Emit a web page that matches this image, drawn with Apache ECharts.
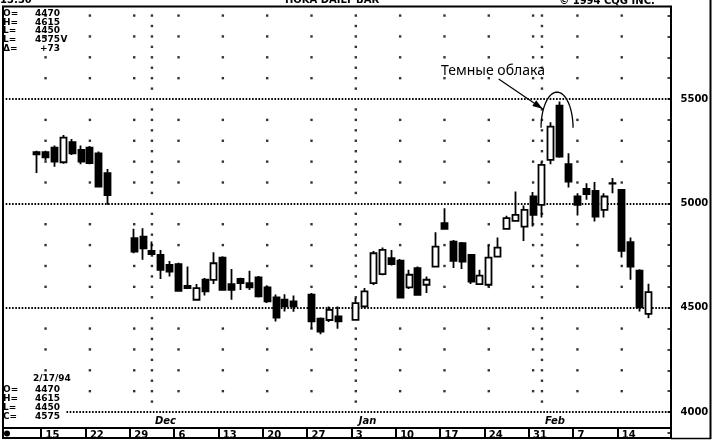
<!DOCTYPE html>
<html><head><meta charset="utf-8">
<script src="https://cdn.jsdelivr.net/npm/echarts@6/dist/echarts.min.js"></script>
<style>html,body{margin:0;padding:0;background:#fff}#c{width:714px;height:444px}</style>
</head><body><div id="c"></div>
<script>
// ---- data ----
const dates = ['11/12','11/15','11/16','11/17','11/18','11/19','11/22','11/23','11/24','11/25','11/26','11/29','11/30','12/01','12/02','12/03','12/06','12/07','12/08','12/09','12/10','12/13','12/14','12/15','12/16','12/17','12/20','12/21','12/22','12/23','12/24','12/27','12/28','12/29','12/30','12/31','01/03','01/04','01/05','01/06','01/07','01/10','01/11','01/12','01/13','01/14','01/17','01/18','01/19','01/20','01/21','01/24','01/25','01/26','01/27','01/28','01/31','02/01','02/02','02/03','02/04','02/07','02/08','02/09','02/10','02/11','02/14','02/15','02/16','02/17'];
const opens = [5245,5245,5267,5197,5293,5256,5267,5240,5145,null,null,4833,4841,4772,4753,4705,4709,4605,4538,4634,4633,4740,4613,4638,4618,4645,4597,4549,4538,4530,null,4562,4447,4441,4458,null,4442,4506,4618,4661,4737,4725,4597,4690,4610,4697,4905,4817,4809,4753,4613,4610,4745,4878,4916,4889,5033,4993,5208,5468,5188,5033,5069,5060,4969,5095,5065,4814,4677,4470];
const highs = [5252,5252,5277,5328,5309,5277,5275,5248,5165,null,null,4878,4881,4817,4777,4724,4716,4697,4613,4642,4766,4747,4686,4643,4677,4652,4606,4563,4565,4558,null,4570,4453,4506,4506,null,4546,4594,4772,4788,4777,4733,4682,4698,4650,4862,4977,4825,4815,4753,4682,4801,4836,4941,5057,4990,5054,5200,5389,5488,5240,5049,5097,5102,5049,5121,5069,4836,4684,4615];
const lows = [5145,5205,5176,5190,5232,5188,5188,5080,4993,null,null,4761,4730,4753,4638,4649,4576,4590,4533,4558,4613,4581,4538,4585,4585,4549,4522,4434,4482,4480,null,4399,4373,4431,4399,null,4437,4498,4609,4655,4702,4545,4590,4558,4570,4697,4873,4690,4685,4613,4610,4601,4740,4873,4916,4820,4889,4932,5188,5219,5076,4942,5017,4913,4932,5049,4740,4634,4482,4450];
const closes = [5235,5220,5200,5315,5240,5200,5193,5080,5040,null,null,4769,4785,4757,4681,4673,4581,4594,4594,4578,4713,4586,4586,4618,4597,4554,4530,4453,4506,4506,null,4434,4386,4490,4434,null,4522,4578,4761,4777,4709,4549,4658,4562,4634,4793,4878,4725,4721,4625,4654,4740,4788,4929,4945,4969,4945,5184,5368,5224,5104,4993,5044,4937,5033,5097,4772,4697,4502,4575];
const mondays = ['11/15','11/22','11/29','12/06','12/13','12/20','12/27','01/03','01/10','01/17','01/24','01/31','02/07','02/14'];
const weekLabels = ['15','22','29','6','13','20','27','3','10','17','24','31','7','14'];
const monthStarts = ['12/01','01/03','02/01'];
const monthNames = ['Dec','Jan','Feb'];
const priceLabels = [4000,4500,5000,5500];
const hdrLabels = ['O=','H=','L=','L=','\u0394='];
const hdrValues = ['4470','4615','4450','4575','+73'];
const lastDate = '2/17/94';
const lastLabels = ['O=','H=','L=','C='];
const lastValues = ['4470','4615','4450','4575'];
const annotation = 'Темные облака';

(function () {
// ---- build ----
const padL = ['_a','_b','_c'], padR = ['_y','_z'];
const cats = padL.concat(dates, padR);
const candle = cats.map(c => {
  const i = dates.indexOf(c);
  if (i < 0 || opens[i] == null) return '-';
  return [opens[i], closes[i], lows[i], highs[i]];
});
const dots = [];
for (const m of mondays) {
  if (monthStarts.includes(m)) continue;
  for (let v = 4100; v <= 5900; v += 100) if (v % 500) dots.push([m, v]);
}
for (const m of monthStarts) {
  for (let v = 4050; v <= 5900; v += 50) if (v % 500) dots.push([m, v]);
}
const F = 'DejaVu Sans';
const chart = echarts.init(document.getElementById('c'), null, {renderer: 'canvas'});
chart.setOption({
  animation: false,
  backgroundColor: '#fff',
  grid: {left: 5.68, right: 43.5, top: -5.3, bottom: 11.1, containLabel: false, outerBoundsMode: 'none'},
  xAxis: {
    type: 'category', data: cats, boundaryGap: true, offset: -4.9,
    axisLine: {show: false},
    axisTick: {show: true, length: 10, interval: (i, v) => mondays.includes(v), lineStyle: {color: '#000', width: 2}},
    axisLabel: {show: true, interval: (i, v) => mondays.includes(v),
      formatter: v => { const k = mondays.indexOf(v); return k < 0 ? '' : weekLabels[k]; },
      align: 'left', margin: 2, color: '#000', fontFamily: F, fontWeight: 'bold', fontSize: 10},
    splitLine: {show: false}
  },
  yAxis: {
    type: 'value', position: 'right', min: 3900, max: 6000, interval: 100,
    axisLine: {show: false},
    axisTick: {show: true, inside: true, length: 3, lineStyle: {color: '#000', width: 1.5}},
    axisLabel: {formatter: v => priceLabels.includes(v) ? String(v) : '', margin: 10,
      color: '#000', fontFamily: F, fontWeight: 'bold', fontSize: 10},
    splitLine: {show: false}
  },
  series: [
    {type: 'scatter', data: dots, symbol: 'rect', symbolSize: 2.4, itemStyle: {color: '#000'}, silent: true, z: 1},
    {type: 'candlestick', data: candle, barWidth: 6.5, z: 5,
      itemStyle: {color: '#fff', color0: '#000', borderColor: '#000', borderColor0: '#000', borderColorDoji: '#000', borderWidth: 1.8},
      markLine: {silent: true, symbol: 'none', label: {show: false},
        lineStyle: {color: '#000', type: [1.6, 1.6], width: 1.8},
        data: priceLabels.map(v => ({yAxis: v}))}
    }
  ]
});

// ---- decorations ----
const px = (c, v) => chart.convertToPixel({xAxisIndex: 0, yAxisIndex: 0}, [c, v]);
const g = [];
const txt = (x, y, s, o) => g.push({type: 'text', x, y, style: Object.assign({text: s, fill: '#000', font: 'bold 10px "DejaVu Sans"', textAlign: 'left', textVerticalAlign: 'middle'}, o || {}), z: 20});
// white backing behind the bottom-left info block
g.push({type: 'rect', shape: {x: 4, y: 372, width: 62, height: 50}, style: {fill: '#fff'}, z: 12});
// frame
g.push({type: 'rect', shape: {x: 3, y: 6.5, width: 668, height: 421.5}, style: {fill: 'none', stroke: '#000', lineWidth: 2}, z: 15});
g.push({type: 'rect', shape: {x: 3, y: 428, width: 668, height: 10}, style: {fill: 'none', stroke: '#000', lineWidth: 2}, z: 15});
g.push({type: 'line', shape: {x1: 710.5, y1: 0, x2: 710.5, y2: 439}, style: {stroke: '#000', lineWidth: 2}, z: 15});
g.push({type: 'line', shape: {x1: 671, y1: 438.5, x2: 711, y2: 438.5}, style: {stroke: '#000', lineWidth: 1.5}, z: 15});
g.push({type: 'circle', shape: {cx: 7, cy: 433.5, r: 3}, style: {fill: '#000'}, z: 20});
// header (cut at top)
txt(0, 0, '13:30');
txt(332, 0, 'HOKA DAILY BAR', {textAlign: 'center'});
txt(607, 1, '\u00a9 1994 CQG INC.', {textAlign: 'center'});
// top-left block
hdrLabels.forEach((l, i) => {
  const y = 13.5 + i * 8.8;
  txt(3, y, l, {font: 'bold 9px "DejaVu Sans"'});
  txt(60, y, hdrValues[i], {textAlign: 'right', font: 'bold 9px "DejaVu Sans"'});
});
txt(60.5, 13.5 + 3 * 8.8, 'V', {font: 'bold 9px "DejaVu Sans"'});
// bottom-left block
txt(33, 379, lastDate, {font: 'bold 9px "DejaVu Sans"'});
lastLabels.forEach((l, i) => {
  const y = 389.5 + i * 9.2;
  txt(3, y, l, {font: 'bold 9px "DejaVu Sans"'});
  txt(60, y, lastValues[i], {textAlign: 'right', font: 'bold 9px "DejaVu Sans"'});
});
// month labels
monthStarts.forEach((m, i) => {
  const p = px(m, 4000);
  txt(p[0] + 3, 421, monthNames[i], {font: 'italic bold 10px "DejaVu Sans"'});
});
// dark cloud annotation
const a = px('02/02', 5362), b = px('02/03', 5362), tp0 = px('02/03', 5533);
const cx = a[0] + 0.7 * (b[0] - a[0]), cy = a[1], ry = cy - tp0[1], rx = 16;
const pts = [];
for (let k = 0; k <= 40; k++) { const t = Math.PI + Math.PI * k / 40; pts.push([cx + rx * Math.cos(t), cy + ry * Math.sin(t)]); }
g.push({type: 'polyline', shape: {points: pts}, style: {stroke: '#000', lineWidth: 1.3, fill: 'none'}, z: 20});
const e = px('02/01', 5453), s = px('01/25', 5596);
e[0] += 0.5; s[0] += 1;
g.push({type: 'line', shape: {x1: s[0], y1: s[1], x2: e[0], y2: e[1]}, style: {stroke: '#000', lineWidth: 1.2}, z: 20});
const ang = Math.atan2(e[1] - s[1], e[0] - s[0]);
const hl = 10, hw = 3.5;
const bx = e[0] - hl * Math.cos(ang), by = e[1] - hl * Math.sin(ang);
g.push({type: 'polygon', shape: {points: [[e[0], e[1]], [bx + hw * Math.sin(ang), by - hw * Math.cos(ang)], [bx - hw * Math.sin(ang), by + hw * Math.cos(ang)]]}, style: {fill: '#000'}, z: 20});
const tp = px('02/01', 5635);
g.push({type: 'text', x: tp[0] + 3, y: tp[1], style: {text: annotation, fill: '#000', font: '14px "Noto Sans"', textAlign: 'right', textVerticalAlign: 'middle'}, z: 20});
chart.setOption({graphic: g});
})();
</script></body></html>
